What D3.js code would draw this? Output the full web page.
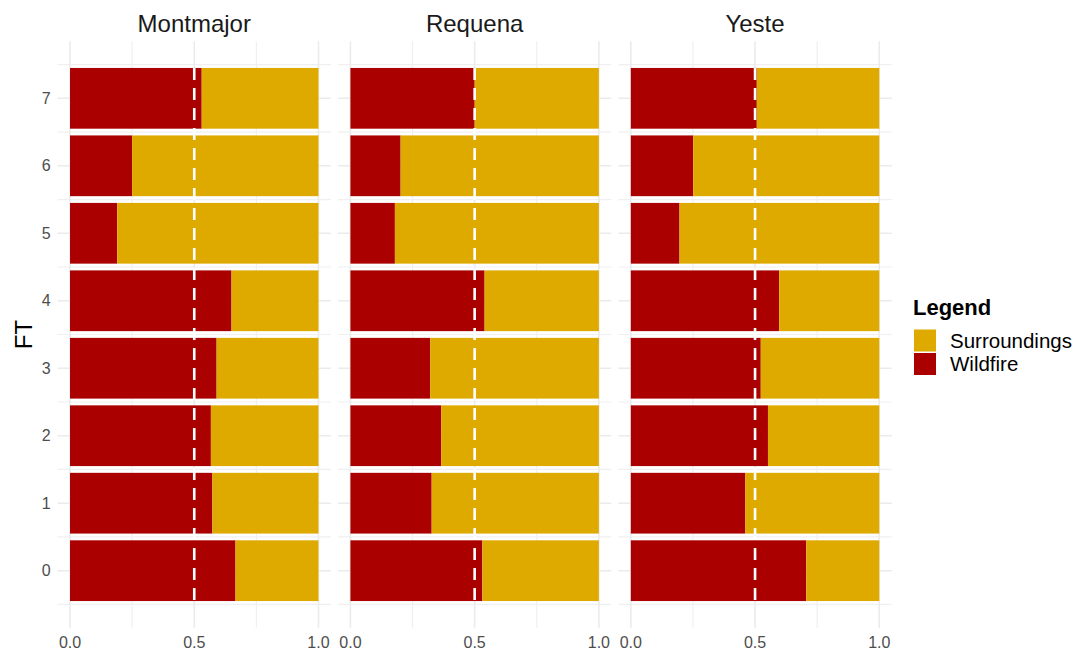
<!DOCTYPE html>
<html>
<head>
<meta charset="utf-8">
<script src="https://d3js.org/d3.v7.min.js"></script>
<style>
  body { margin: 0; background: #fff; }
  text { font-family: "Liberation Sans", Arial, sans-serif; }
</style>
</head>
<body>
<div id="chart"></div>
<script>
// data (share of each FT, by site)
var sites = ["Montmajor", "Requena", "Yeste"];
var ftLevels = [0, 1, 2, 3, 4, 5, 6, 7];
var xTicks = [0, 0.5, 1];
var xMinor = [0.25, 0.75];

var wildfireMontmajor = [0.666, 0.573, 0.567, 0.590, 0.650, 0.190, 0.250, 0.530];
var wildfireRequena = [0.531, 0.327, 0.366, 0.321, 0.540, 0.179, 0.202, 0.500];
var wildfireYeste = [0.706, 0.461, 0.552, 0.523, 0.597, 0.196, 0.251, 0.507];

var surroundingsMontmajor = [0.334, 0.427, 0.433, 0.410, 0.350, 0.810, 0.750, 0.470];
var surroundingsRequena = [0.469, 0.673, 0.634, 0.679, 0.460, 0.821, 0.798, 0.500];
var surroundingsYeste = [0.294, 0.539, 0.448, 0.477, 0.403, 0.804, 0.749, 0.493];

var legendKeys = ["Surroundings", "Wildfire"];
var refLine = 0.5;

var wildfire = [wildfireMontmajor, wildfireRequena, wildfireYeste];
var surroundings = [surroundingsMontmajor, surroundingsRequena, surroundingsYeste];

var colors = { Wildfire: "#aa0000", Surroundings: "#dfaa00" };

// dimensions
var W = 1078, H = 651;
var panelLeft = 57.6, panelW = 273.3, panelGap = 7.1;
var panelTop = 41.3, panelBottom = 627.7;

var svg = d3.select("#chart")
    .append("svg")
    .attr("width", W)
    .attr("height", H);

var y = d3.scaleLinear()
    .domain([-0.845, 7.845])
    .range([panelBottom, panelTop]);

var bandH = (y(0) - y(0.9));

sites.forEach(function(site, i) {
    var left = panelLeft + i * (panelW + panelGap);
    var x = d3.scaleLinear()
        .domain([-0.05, 1.05])
        .range([left, left + panelW]);

    var g = svg.append("g");

    // grid: minor first, then major
    g.selectAll(".vminor")
        .data(xMinor)
        .enter()
        .append("line")
        .attr("x1", function(d) { return x(d); })
        .attr("x2", function(d) { return x(d); })
        .attr("y1", panelTop)
        .attr("y2", panelBottom)
        .attr("stroke", "#f0f0f0")
        .attr("stroke-width", 1.2);
    g.selectAll(".hminor")
        .data(ftLevels.concat([-1]).map(function(d) { return d + 0.5; }))
        .enter()
        .append("line")
        .attr("x1", left)
        .attr("x2", left + panelW)
        .attr("y1", function(d) { return y(d); })
        .attr("y2", function(d) { return y(d); })
        .attr("stroke", "#f0f0f0")
        .attr("stroke-width", 1.2);
    g.selectAll(".vmajor")
        .data(xTicks)
        .enter()
        .append("line")
        .attr("x1", function(d) { return x(d); })
        .attr("x2", function(d) { return x(d); })
        .attr("y1", panelTop)
        .attr("y2", panelBottom)
        .attr("stroke", "#ebebeb")
        .attr("stroke-width", 1.6);
    g.selectAll(".hmajor")
        .data(ftLevels)
        .enter()
        .append("line")
        .attr("x1", left)
        .attr("x2", left + panelW)
        .attr("y1", function(d) { return y(d); })
        .attr("y2", function(d) { return y(d); })
        .attr("stroke", "#ebebeb")
        .attr("stroke-width", 1.6);

    // stacked bars
    var rows = ftLevels.map(function(ft, j) {
        return { ft: ft, Wildfire: wildfire[i][j], Surroundings: surroundings[i][j] };
    });
    var stacked = d3.stack().keys(["Wildfire", "Surroundings"])(rows);

    g.selectAll(".layer")
        .data(stacked)
        .enter()
        .append("g")
        .attr("fill", function(d) { return colors[d.key]; })
        .selectAll("rect")
        .data(function(d) { return d; })
        .enter()
        .append("rect")
        .attr("x", function(d) { return x(d[0]); })
        .attr("width", function(d) { return x(d[1]) - x(d[0]); })
        .attr("y", function(d) { return y(d.data.ft + 0.45); })
        .attr("height", bandH);

    // dashed reference line
    g.append("line")
        .attr("x1", x(refLine))
        .attr("x2", x(refLine))
        .attr("y1", y(7.45))
        .attr("y2", y(-0.45))
        .attr("stroke", "#ffffff")
        .attr("stroke-width", 2.6)
        .attr("stroke-dasharray", "12,8");

    // strip title
    g.append("text")
        .attr("x", left + panelW / 2)
        .attr("y", 32)
        .attr("text-anchor", "middle")
        .attr("font-size", 24)
        .attr("fill", "#1a1a1a")
        .text(site);

    // x tick labels
    g.selectAll(".xlab")
        .data(xTicks)
        .enter()
        .append("text")
        .attr("x", function(d) { return x(d); })
        .attr("y", 648)
        .attr("text-anchor", "middle")
        .attr("font-size", 16)
        .attr("fill", "#4d4d4d")
        .text(function(d) { return d3.format(".1f")(d); });

    // y tick labels (first panel only)
    if (i === 0) {
        g.selectAll(".ylab")
            .data(ftLevels)
            .enter()
            .append("text")
            .attr("x", left - 7)
            .attr("y", function(d) { return y(d); })
            .attr("dy", "0.35em")
            .attr("text-anchor", "end")
            .attr("font-size", 16)
            .attr("fill", "#4d4d4d")
            .text(function(d) { return d; });
    }
});

// axis title
svg.append("text")
    .attr("transform", "translate(32," + ((panelTop + panelBottom) / 2) + ")rotate(-90)")
    .attr("text-anchor", "middle")
    .attr("font-size", 24)
    .attr("fill", "#000")
    .text("FT");

// legend
var legend = svg.append("g")
    .attr("transform", "translate(914,0)");
legend.append("text")
    .attr("x", -1)
    .attr("y", 315)
    .attr("font-size", 22)
    .attr("font-weight", "bold")
    .attr("fill", "#000")
    .text("Legend");
legend.selectAll("rect")
    .data(legendKeys)
    .enter()
    .append("rect")
    .attr("x", 0)
    .attr("y", function(d, k) { return 329.5 + k * 23.5; })
    .attr("width", 22)
    .attr("height", 22)
    .attr("fill", function(d) { return colors[d]; });
legend.selectAll(".ltext")
    .data(legendKeys)
    .enter()
    .append("text")
    .attr("x", 36)
    .attr("y", function(d, k) { return 340.5 + k * 23.5; })
    .attr("dy", "0.35em")
    .attr("font-size", 20.5)
    .attr("fill", "#000")
    .text(function(d) { return d; });
</script>
</body>
</html>
